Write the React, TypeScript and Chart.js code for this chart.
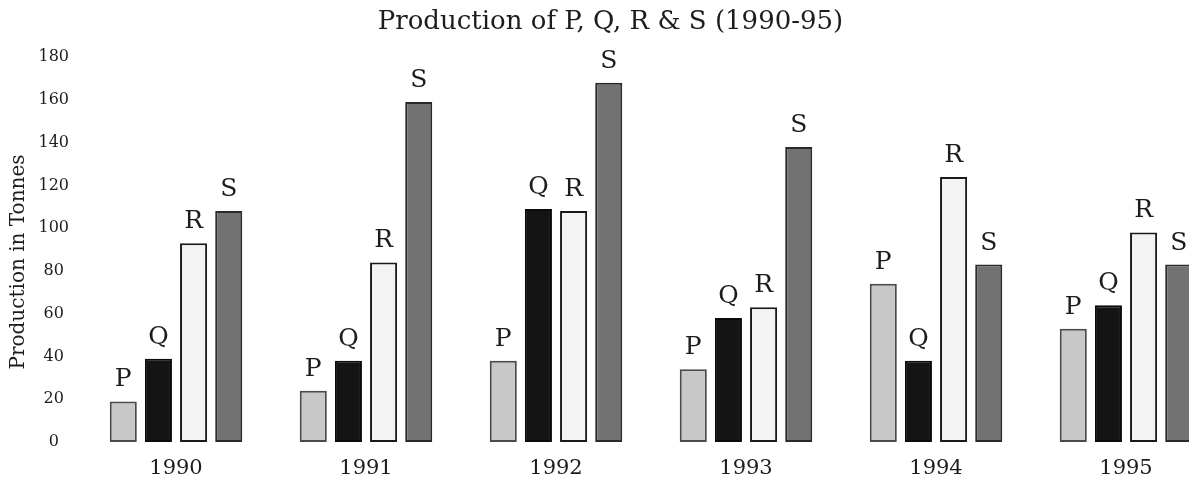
import React, { useEffect, useRef } from "react";
import { Chart, registerables } from "chart.js";

Chart.register(...registerables);

const years = ["1990", "1991", "1992", "1993", "1994", "1995"];
const seriesNames = ["P", "Q", "R", "S"];
const pValues = [19, 24, 38, 34, 74, 53];
const qValues = [39, 38, 109, 58, 38, 64];
const rValues = [93, 84, 108, 63, 124, 98];
const sValues = [108, 159, 168, 138, 83, 83];
const yTicks = [0, 20, 40, 60, 80, 100, 120, 140, 160, 180];

const FONT = '"DejaVu Serif", "Liberation Serif", serif';
const INK = "#1c1c1c";

const barLetters = {
  id: "barLetters",
  afterDatasetsDraw(chart: any) {
    const ctx = chart.ctx;
    ctx.save();
    ctx.font = `25px ${FONT}`;
    ctx.fillStyle = INK;
    ctx.textAlign = "center";
    ctx.textBaseline = "alphabetic";
    chart.data.datasets.forEach((ds: any, i: number) => {
      const meta = chart.getDatasetMeta(i);
      meta.data.forEach((el: any) => {
        ctx.fillText(ds.label, el.x, el.y - 15);
      });
    });
    ctx.restore();
  },
};

const yTitle = {
  id: "yTitle",
  afterDraw(chart: any) {
    const ctx = chart.ctx;
    ctx.save();
    ctx.translate(19, 262);
    ctx.rotate(-Math.PI / 2);
    ctx.font = `20px ${FONT}`;
    ctx.fillStyle = INK;
    ctx.textAlign = "center";
    ctx.textBaseline = "middle";
    ctx.fillText("Production in Tonnes", 0, 0);
    ctx.restore();
  },
};

export default function App() {
  const ref = useRef<HTMLCanvasElement>(null);

  useEffect(() => {
    if (!ref.current) return;
    const values = [pValues, qValues, rValues, sValues];
    const fills = ["#c8c8c8", "#141414", "#f3f3f3", "#727272"];
    const borders = ["#4a4a4a", "#0a0a0a", "#1a1a1a", "#2a2a2a"];
    const chart = new Chart(ref.current, {
      type: "bar",
      data: {
        labels: years,
        datasets: seriesNames.map((name, i) => ({
          label: name,
          data: values[i],
          backgroundColor: fills[i],
          borderColor: borders[i],
          borderWidth: 2,
          borderSkipped: false,
          categoryPercentage: 0.74,
          barPercentage: 0.77,
        })),
      },
      options: {
        responsive: false,
        animation: false,
        layout: { padding: 0 },
        plugins: {
          legend: { display: false },
          tooltip: { enabled: false },
          title: {
            display: true,
            text: "Production of P, Q, R & S (1990-95)",
            color: INK,
            font: { family: FONT, size: 26, weight: "normal" },
            padding: { top: 7, bottom: 19 },
          },
        },
        scales: {
          x: {
            grid: { display: false, drawTicks: false },
            border: { display: false },
            ticks: {
              color: INK,
              font: { family: FONT, size: 21 },
              padding: 14,
            },
            afterFit: (scale: any) => {
              scale.height = 51;
            },
          },
          y: {
            min: 0,
            max: 180,
            grid: { display: false, drawTicks: false },
            border: { display: false },
            afterBuildTicks: (scale: any) => {
              scale.ticks = yTicks.map((v) => ({ value: v }));
            },
            ticks: {
              color: INK,
              font: { family: FONT, size: 16 },
              padding: 12,
              crossAlign: "center",
            },
            afterFit: (scale: any) => {
              scale.width = 81;
            },
          },
        },
      },
      plugins: [barLetters, yTitle],
    });
    return () => chart.destroy();
  }, []);

  return (
    <div
      style={{
        position: "absolute",
        left: 0,
        top: 0,
        width: 1189,
        height: 493,
        overflow: "hidden",
        background: "#ffffff",
      }}
    >
      <canvas ref={ref} width={1221} height={493} style={{ display: "block" }} />
    </div>
  );
}
